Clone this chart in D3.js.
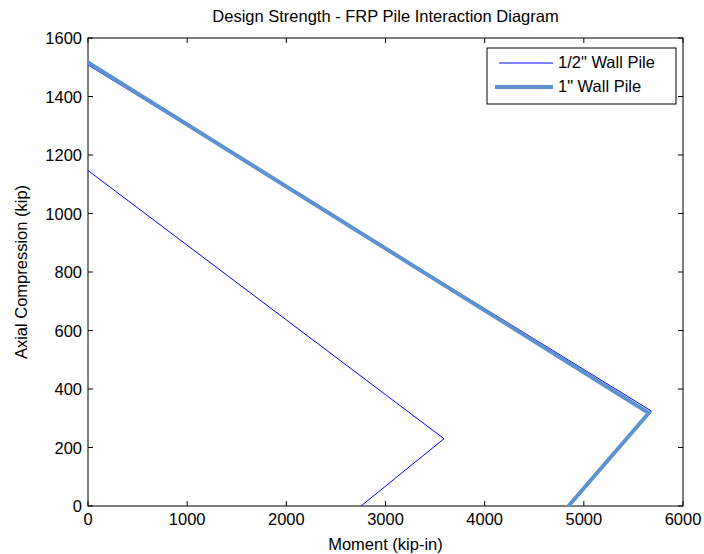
<!DOCTYPE html>
<html>
<head>
<meta charset="utf-8">
<script src="https://cdn.jsdelivr.net/npm/d3@7"></script>
<style>
  body { margin: 0; background: #fff; }
  text { font-family: "Liberation Sans", Arial, sans-serif; fill: #000; }
</style>
</head>
<body>
<div class="chart"></div>
<script>
// moment (kip-in) vs axial compression (kip)
const halfWallPile = [[0, 1147], [3590, 230], [2753, 0]];
const halfWallUpper = [[0, 1508], [5680, 325], [4845, 0]];
const oneInchWallPile = [[0, 1516], [5655, 318], [4845, 0]];
const xTicks = [0, 1000, 2000, 3000, 4000, 5000, 6000];
const yTicks = [0, 200, 400, 600, 800, 1000, 1200, 1400, 1600];
const legendLabels = ['1/2" Wall Pile', '1" Wall Pile'];

const w = 704, h = 554;
const m = { left: 88, right: 21, top: 38, bottom: 48 };
const thinColor = '#0000ff', thickColor = '#5b92cf';
const fs = 16.5;

const svg = d3.select('.chart').append('svg')
    .attr('width', w)
    .attr('height', h);

const x = d3.scaleLinear().domain([0, 6000]).range([m.left, w - m.right]);
const y = d3.scaleLinear().domain([0, 1600]).range([h - m.bottom, m.top]);

const line = d3.line().x(d => x(d[0])).y(d => y(d[1]));

// box
svg.append('rect')
    .attr('x', x(0)).attr('y', y(1600))
    .attr('width', x(6000) - x(0)).attr('height', y(0) - y(1600))
    .attr('fill', 'none').attr('stroke', '#000').attr('stroke-width', 1);

// ticks inward on all sides
const tl = 5;
const tickG = svg.append('g').attr('stroke', '#000').attr('stroke-width', 1);
xTicks.forEach(t => {
    tickG.append('line').attr('x1', x(t)).attr('x2', x(t)).attr('y1', y(0)).attr('y2', y(0) - tl);
    tickG.append('line').attr('x1', x(t)).attr('x2', x(t)).attr('y1', y(1600)).attr('y2', y(1600) + tl);
});
yTicks.forEach(t => {
    tickG.append('line').attr('x1', x(0)).attr('x2', x(0) + tl).attr('y1', y(t)).attr('y2', y(t));
    tickG.append('line').attr('x1', x(6000)).attr('x2', x(6000) - tl).attr('y1', y(t)).attr('y2', y(t));
});

svg.append('g').selectAll('text')
    .data(xTicks).join('text')
    .attr('x', d => x(d)).attr('y', y(0) + 19)
    .attr('text-anchor', 'middle').attr('font-size', fs)
    .text(d => d);

svg.append('g').selectAll('text')
    .data(yTicks).join('text')
    .attr('x', x(0) - 6).attr('y', d => y(d) + 6)
    .attr('text-anchor', 'end').attr('font-size', fs)
    .text(d => d);

// lines
svg.append('path').datum(halfWallUpper)
    .attr('d', line).attr('fill', 'none')
    .attr('stroke', thinColor).attr('stroke-width', 1);
svg.append('path').datum(oneInchWallPile)
    .attr('d', line).attr('fill', 'none')
    .attr('stroke', thickColor).attr('stroke-width', 4);
svg.append('path').datum(halfWallPile)
    .attr('d', line).attr('fill', 'none')
    .attr('stroke', thinColor).attr('stroke-width', 1);

// titles
svg.append('text')
    .attr('x', (x(0) + x(6000)) / 2).attr('y', 22)
    .attr('text-anchor', 'middle').attr('font-size', fs)
    .text('Design Strength - FRP Pile Interaction Diagram');
svg.append('text')
    .attr('x', (x(0) + x(6000)) / 2).attr('y', 550)
    .attr('text-anchor', 'middle').attr('font-size', fs)
    .text('Moment (kip-in)');
svg.append('text')
    .attr('transform', `translate(27,${(y(0) + y(1600)) / 2}) rotate(-90)`)
    .attr('text-anchor', 'middle').attr('font-size', fs)
    .text('Axial Compression (kip)');

// legend
const lg = svg.append('g');
lg.append('rect')
    .attr('x', 487).attr('y', 48).attr('width', 189).attr('height', 56)
    .attr('fill', '#fff').attr('stroke', '#000');
const legendStyles = [{ c: thinColor, sw: 1, x1: 499 }, { c: thickColor, sw: 4, x1: 495 }];
legendLabels.forEach((lab, i) => {
    const ly = 63 + i * 24;
    lg.append('line')
        .attr('x1', legendStyles[i].x1).attr('x2', 553).attr('y1', ly).attr('y2', ly)
        .attr('stroke', legendStyles[i].c).attr('stroke-width', legendStyles[i].sw);
    lg.append('text')
        .attr('x', 558).attr('y', ly + 5).attr('font-size', fs)
        .text(lab);
});
</script>
</body>
</html>
